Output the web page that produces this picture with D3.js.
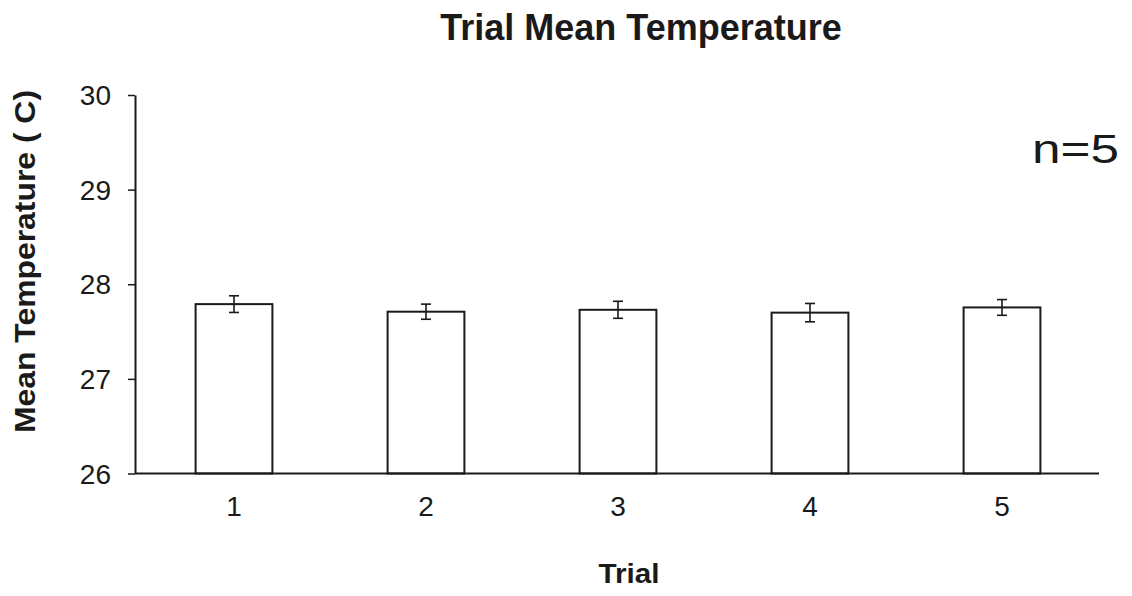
<!DOCTYPE html>
<html>
<head>
<meta charset="utf-8">
<script src="https://cdn.jsdelivr.net/npm/d3@7"></script>
<style>
  html, body { margin: 0; padding: 0; background: #fff; }
  svg { display: block; }
  text { font-family: "Liberation Sans", Arial, Helvetica, sans-serif; fill: #1a1a1a; }
</style>
</head>
<body>
<svg id="chart" width="1132" height="596"></svg>
<script>
const categories = ["1", "2", "3", "4", "5"];
const means = [27.79, 27.71, 27.73, 27.70, 27.755];
const errors = [0.088, 0.08, 0.09, 0.097, 0.083];
const yTicks = [26, 27, 28, 29, 30];
const titleText = "Trial Mean Temperature";
const xTitle = "Trial";
const yTitle = "Mean Temperature ( C)";
const noteText = "n=5";

const data = categories.map((c, i) => ({ cat: c, mean: means[i], err: errors[i] }));

const svg = d3.select("#chart");
const ink = "#1a1a1a";

const x = d3.scaleBand().domain(categories).range([138, 1098]).paddingInner(0.6).paddingOuter(0.3);
const y = d3.scaleLinear().domain([26, 30]).range([473.5, 95]);

// Y axis
const yAxis = svg.append("g")
  .attr("transform", "translate(135,0)")
  .call(d3.axisLeft(y).tickValues(yTicks).tickFormat(d3.format("d")).tickSize(7).tickSizeOuter(0).tickPadding(17));
yAxis.select(".domain").attr("stroke", ink).attr("stroke-width", 2);
yAxis.selectAll(".tick line").attr("stroke", ink).attr("stroke-width", 1.5);
yAxis.selectAll(".tick text").attr("font-size", 28).attr("fill", ink).attr("dy", "0.34em")
  .attr("font-family", "Liberation Sans, Arial, sans-serif");

// Bars
svg.append("g").selectAll("rect").data(data).join("rect")
  .attr("x", d => x(d.cat))
  .attr("y", d => y(d.mean))
  .attr("width", x.bandwidth())
  .attr("height", d => y(26) - y(d.mean))
  .attr("fill", "#fff")
  .attr("stroke", ink)
  .attr("stroke-width", 2);

// Error bars
const eg = svg.append("g").attr("stroke", ink).attr("stroke-width", 1.6);
data.forEach(d => {
  const cx = x(d.cat) + x.bandwidth() / 2;
  eg.append("line").attr("x1", cx).attr("x2", cx).attr("y1", y(d.mean + d.err)).attr("y2", y(d.mean - d.err));
  eg.append("line").attr("x1", cx - 5).attr("x2", cx + 5).attr("y1", y(d.mean + d.err)).attr("y2", y(d.mean + d.err));
  eg.append("line").attr("x1", cx - 5).attr("x2", cx + 5).attr("y1", y(d.mean - d.err)).attr("y2", y(d.mean - d.err));
});

// X axis
const xAxis = svg.append("g")
  .attr("transform", `translate(0,${y(26)})`)
  .call(d3.axisBottom(x).tickSize(0).tickPadding(23));
xAxis.select(".domain").remove();
xAxis.selectAll(".tick text").attr("font-size", 28).attr("fill", ink)
  .attr("font-family", "Liberation Sans, Arial, sans-serif");
svg.append("line")
  .attr("x1", 135).attr("x2", 1099)
  .attr("y1", y(26)).attr("y2", y(26))
  .attr("stroke", ink).attr("stroke-width", 2);

// Title
svg.append("text")
  .attr("x", 641).attr("y", 40)
  .attr("text-anchor", "middle")
  .attr("font-size", 36).attr("font-weight", "bold")
  .text(titleText);

// X title
svg.append("text")
  .attr("x", 629).attr("y", 583)
  .attr("text-anchor", "middle")
  .attr("font-size", 28).attr("font-weight", "bold")
  .attr("textLength", 61).attr("lengthAdjust", "spacingAndGlyphs")
  .text(xTitle);

// Y title
svg.append("text")
  .attr("transform", "translate(35,261.5) rotate(-90)")
  .attr("text-anchor", "middle")
  .attr("font-size", 29).attr("font-weight", "bold")
  .attr("textLength", 343).attr("lengthAdjust", "spacingAndGlyphs")
  .text(yTitle);

// n=5 note
svg.append("text")
  .attr("x", 1032).attr("y", 163)
  .attr("font-size", 41)
  .attr("textLength", 87).attr("lengthAdjust", "spacingAndGlyphs")
  .text(noteText);
</script>
</body>
</html>
